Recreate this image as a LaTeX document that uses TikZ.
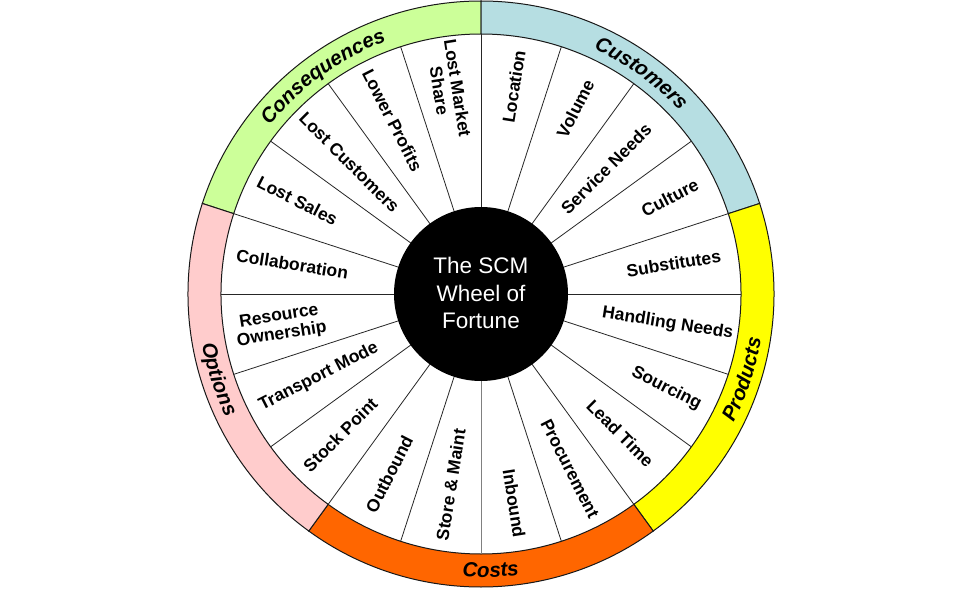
\documentclass[tikz,border=0pt]{standalone}
\usepackage{fontspec}
\setmainfont{Liberation Sans}
\usetikzlibrary{decorations.text}

\definecolor{consgreen}{HTML}{CCFF99}
\definecolor{custblue}{HTML}{B6DEE2}
\definecolor{prodyellow}{HTML}{FFFF00}
\definecolor{costorange}{HTML}{FF6600}
\definecolor{optpink}{HTML}{FFCCCC}

\tikzset{
  spoke/.style={draw=black!85, line width=0.8pt},
  ringpart/.style={draw=black!90, line width=1pt},
  itemlabel/.style={font=\fontsize{17.5}{18.5}\selectfont\bfseries, align=center, inner sep=0pt},
  ringtext/.style={decorate, decoration={text along path, text align=center,
      text={|\fontsize{20.5}{21}\selectfont\bfseries\itshape|#1}}}
}

\begin{document}
\begin{tikzpicture}[x=1pt, y=1pt]
    \fill[white] (-481,-295) rectangle (479,294);
    \useasboundingbox (-481,-295) rectangle (479,294);

    % Outer ring
    \foreach \a/\b/\col in {90/162/consgreen, 18/90/custblue, -54/18/prodyellow,
                            -126/-54/costorange, 162/234/optpink}
      \filldraw[ringpart, fill=\col] (\a:260) -- (\a:293)
        arc[start angle=\a, end angle=\b, radius=293] -- (\b:260)
        arc[start angle=\b, end angle=\a, radius=260] -- cycle;

    % Ring titles
    \path[ringtext=Consequences] (162:270) arc[start angle=162, end angle=90, radius=270];
    \path[ringtext=Customers] (90:270) arc[start angle=90, end angle=18, radius=270];
    \path[ringtext=Products] (-54:283.5) arc[start angle=-54, end angle=18, radius=283.5];
    \path[ringtext=Costs] (-124:283.5) arc[start angle=-124, end angle=-52, radius=283.5];
    \path[ringtext=Options] (162:283.5) arc[start angle=162, end angle=234, radius=283.5];

    % Spokes
    \foreach \s in {0,18,...,252,288,306,...,342}
      \draw[spoke] (\s:80) -- (\s:260);
    \draw[spoke, draw=gray] (270:80) -- (270:260);

    % Hub
    \fill[black] (0,0) circle (87);
    \node[white, align=center, font=\fontsize{22.5}{27.5}\selectfont] (hub) at (0,1)
      {The SCM\\Wheel of\\Fortune};

    % Items, right half
    \foreach \ang/\r/\txt [count=\i] in {81/210/Location, 63/208/Volume, 45/177/Service Needs,
        27/212/Culture, 9/195/Substitutes, -9/189/Handling Needs, -27/208/Sourcing,
        -45/197/Lead Time, -63/196/Procurement, -81/212/Inbound}
      \node[itemlabel, rotate=\ang] (itemR\i) at (\ang:\r) {\txt};

    % Items, left half
    \foreach \ang/\r/\txt [count=\i] in {-99/193/Store \& Maint, -117/202/Outbound,
        -135/199/Stock Point, -153/182/Transport Mode, -171/203/{Resource\\Ownership},
        171/191/Collaboration, 153/206/Lost Sales, 135/186/Lost Customers,
        117/195/Lower Profits, 99/207/{Lost Market\\Share}}
      \node[itemlabel, rotate=\ang+180] (itemL\i) at (\ang:\r) {\txt};
\end{tikzpicture}
\end{document}
